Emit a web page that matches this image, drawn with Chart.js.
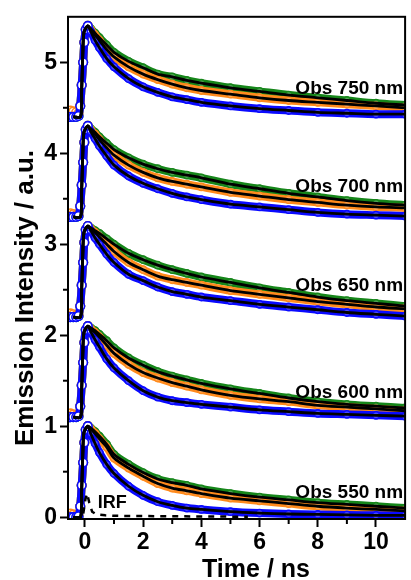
<!DOCTYPE html>
<html>
<head>
<meta charset="utf-8">
<script src="https://cdn.jsdelivr.net/npm/chart.js@4.4.1/dist/chart.umd.min.js"></script>
<style>
  html, body { margin: 0; padding: 0; background: #fff; }
  #wrap { width: 411px; height: 580px; position: relative; }
</style>
</head>
<body>
<div id="wrap"><canvas id="decay-chart"></canvas></div>
<script>
// time axis of the measured traces (ns)
const timeData = [-0.5, -0.4, -0.3, -0.22, -0.16, -0.11, -0.06, -0.02, 0.03, 0.1, 0.2, 0.35, 0.5, 0.75, 1, 1.5, 2, 2.5, 3, 3.5, 4, 5, 6, 7, 8, 9, 10, 11]

// traces, already stacked by 1.1 per wavelength
const green550 = [0, 0, 0, 0.01, 0.12, 0.35, 0.6, 0.82, 0.96, 1.0, 0.98, 0.94, 0.89, 0.80, 0.69, 0.58, 0.49, 0.42, 0.38, 0.35, 0.31, 0.26, 0.22, 0.19, 0.16, 0.14, 0.12, 0.10]
const orange550 = [0.04, 0.03, 0.02, 0.02, 0.12, 0.35, 0.6, 0.82, 0.96, 1.0, 0.97, 0.92, 0.86, 0.77, 0.65, 0.54, 0.45, 0.37, 0.32, 0.29, 0.26, 0.21, 0.18, 0.15, 0.12, 0.10, 0.085, 0.07]
const blue550 = [0, 0, 0, 0.01, 0.12, 0.35, 0.6, 0.82, 0.96, 1.0, 0.92, 0.81, 0.71, 0.58, 0.48, 0.34, 0.24, 0.17, 0.13, 0.10, 0.085, 0.06, 0.045, 0.035, 0.03, 0.025, 0.02, 0.02]

const green600 = [1.10, 1.10, 1.10, 1.11, 1.22, 1.45, 1.70, 1.92, 2.06, 2.10, 2.08, 2.05, 2.01, 1.94, 1.86, 1.75, 1.67, 1.60, 1.55, 1.51, 1.47, 1.41, 1.36, 1.31, 1.27, 1.24, 1.22, 1.20]
const orange600 = [1.14, 1.13, 1.12, 1.12, 1.22, 1.45, 1.70, 1.92, 2.06, 2.10, 2.07, 2.03, 1.98, 1.89, 1.80, 1.68, 1.59, 1.53, 1.48, 1.44, 1.40, 1.34, 1.30, 1.27, 1.23, 1.21, 1.19, 1.17]
const blue600 = [1.10, 1.10, 1.10, 1.11, 1.22, 1.45, 1.70, 1.92, 2.06, 2.10, 2.04, 1.95, 1.87, 1.74, 1.64, 1.50, 1.39, 1.32, 1.28, 1.26, 1.24, 1.21, 1.18, 1.16, 1.14, 1.13, 1.12, 1.11]

const green650 = [2.20, 2.20, 2.20, 2.21, 2.32, 2.55, 2.80, 3.02, 3.16, 3.20, 3.18, 3.15, 3.12, 3.06, 3.00, 2.90, 2.83, 2.77, 2.72, 2.68, 2.64, 2.58, 2.52, 2.47, 2.42, 2.38, 2.35, 2.32]
const orange650 = [2.24, 2.23, 2.22, 2.22, 2.32, 2.55, 2.80, 3.02, 3.16, 3.20, 3.17, 3.13, 3.08, 3.00, 2.92, 2.80, 2.72, 2.65, 2.61, 2.58, 2.55, 2.49, 2.45, 2.41, 2.37, 2.34, 2.31, 2.29]
const blue650 = [2.20, 2.20, 2.20, 2.21, 2.32, 2.55, 2.80, 3.02, 3.16, 3.20, 3.15, 3.07, 3.00, 2.89, 2.80, 2.67, 2.60, 2.53, 2.48, 2.45, 2.42, 2.38, 2.34, 2.31, 2.28, 2.25, 2.23, 2.21]

const green700 = [3.30, 3.30, 3.30, 3.31, 3.42, 3.65, 3.90, 4.12, 4.26, 4.30, 4.27, 4.23, 4.18, 4.11, 4.04, 3.95, 3.88, 3.83, 3.79, 3.76, 3.73, 3.66, 3.61, 3.56, 3.52, 3.48, 3.45, 3.43]
const orange700 = [3.34, 3.33, 3.32, 3.32, 3.42, 3.65, 3.90, 4.12, 4.26, 4.30, 4.26, 4.21, 4.15, 4.06, 3.98, 3.87, 3.79, 3.73, 3.69, 3.66, 3.63, 3.57, 3.53, 3.49, 3.46, 3.43, 3.41, 3.40]
const blue700 = [3.30, 3.30, 3.30, 3.31, 3.42, 3.65, 3.90, 4.12, 4.26, 4.30, 4.24, 4.16, 4.08, 3.97, 3.87, 3.75, 3.67, 3.61, 3.56, 3.52, 3.49, 3.44, 3.41, 3.38, 3.35, 3.33, 3.32, 3.31]

const green750 = [4.40, 4.40, 4.40, 4.41, 4.52, 4.75, 5.00, 5.22, 5.36, 5.40, 5.37, 5.32, 5.27, 5.19, 5.11, 5.01, 4.94, 4.87, 4.84, 4.80, 4.77, 4.72, 4.68, 4.64, 4.61, 4.58, 4.55, 4.53]
const orange750 = [4.47, 4.46, 4.45, 4.44, 4.52, 4.75, 5.00, 5.22, 5.36, 5.40, 5.36, 5.30, 5.24, 5.14, 5.06, 4.95, 4.87, 4.81, 4.76, 4.72, 4.69, 4.65, 4.61, 4.58, 4.56, 4.54, 4.52, 4.50]
const blue750 = [4.40, 4.40, 4.40, 4.41, 4.52, 4.75, 5.00, 5.22, 5.36, 5.40, 5.34, 5.24, 5.16, 5.04, 4.95, 4.82, 4.73, 4.67, 4.62, 4.59, 4.56, 4.52, 4.49, 4.47, 4.45, 4.44, 4.43, 4.43]

// rising edge of the fits, the decay part follows the traces from t = 0.1 on
const fitRiseTime = [-0.4, -0.15, -0.11, -0.07, -0.03]
const fitRise550 = [0, 0, 0.3, 0.7, 0.93]
const fitRise600 = [1.1, 1.1, 1.4, 1.8, 2.03]
const fitRise650 = [2.2, 2.2, 2.5, 2.9, 3.13]
const fitRise700 = [3.3, 3.3, 3.6, 4.0, 4.23]
const fitRise750 = [4.4, 4.4, 4.7, 5.1, 5.33]

const irfTime = [-0.4, -0.15, -0.05, 0.02, 0.08, 0.15, 0.25, 0.4, 0.7, 1, 2, 3, 4, 5, 5.6]
const irfValues = [0, 0, 0.05, 0.2, 0.26, 0.16, 0.06, 0.03, 0.02, 0.015, 0.012, 0.01, 0.008, 0.006, 0.005]

const obsLabels = ['Obs 550 nm', 'Obs 600 nm', 'Obs 650 nm', 'Obs 700 nm', 'Obs 750 nm']
const obsLabelY = [0.27, 1.37, 2.54, 3.63, 4.71]
const obsLabelX = 10.93

const xTicks = [0, 2, 4, 6, 8, 10]
const xMinor = [1, 3, 5, 7, 9]
const yTicks = [0, 1, 2, 3, 4, 5]
const yMinor = [0.5, 1.5, 2.5, 3.5, 4.5]

const GREEN = '#16861a'
const ORANGE = '#ff8a1c'
const BLUE = '#0a0aff'
const FONT = '"Liberation Sans", Arial, sans-serif'

const toXY = (xs, ys) => ys.map((y, i) => ({ x: xs[i], y }))
const decayStart = timeData.indexOf(0.1)

function traceSet (vals, color, order) {
  return {
    data: toXY(timeData, vals),
    showLine: true,
    borderColor: color,
    borderWidth: 8,
    pointRadius: c => (c.dataIndex <= decayStart ? 4.3 : 3.6),
    pointBorderWidth: 1.6,
    pointBorderColor: color,
    pointBackgroundColor: c => (c.dataIndex <= decayStart ? '#fff' : 'rgba(255,255,255,0.25)'),
    tension: 0.3,
    order
  }
}

function fitSet (rise, vals) {
  const pts = toXY(fitRiseTime, rise).concat(toXY(timeData, vals).slice(decayStart))
  return { data: pts, showLine: true, borderColor: '#000', borderWidth: 2.8, pointRadius: 0, tension: 0.3, order: 0 }
}

const panels = [
  [green550, orange550, blue550, fitRise550],
  [green600, orange600, blue600, fitRise600],
  [green650, orange650, blue650, fitRise650],
  [green700, orange700, blue700, fitRise700],
  [green750, orange750, blue750, fitRise750]
]

const datasets = []
panels.forEach(([g, o, b, rise]) => {
  datasets.push(traceSet(g, GREEN, 3), traceSet(o, ORANGE, 2), traceSet(b, BLUE, 1))
  datasets.push(fitSet(rise, g), fitSet(rise, o), fitSet(rise, b))
})
datasets.push({
  data: toXY(irfTime, irfValues),
  showLine: true,
  borderColor: '#000',
  borderWidth: 2.5,
  borderDash: [6, 6],
  pointRadius: 0,
  order: 0
})

const decorPlugin = {
  id: 'decor',
  afterDraw (chart) {
    const { ctx, chartArea: a, scales: { x, y } } = chart
    ctx.save()
    // frame
    ctx.strokeStyle = '#000'
    ctx.lineWidth = 2
    ctx.strokeRect(a.left, a.top, a.right - a.left, a.bottom - a.top)
    // minor ticks
    xMinor.forEach(v => {
      const px = x.getPixelForValue(v)
      ctx.beginPath(); ctx.moveTo(px, a.bottom); ctx.lineTo(px, a.bottom + 5); ctx.stroke()
    })
    yMinor.forEach(v => {
      const py = y.getPixelForValue(v)
      ctx.beginPath(); ctx.moveTo(a.left, py); ctx.lineTo(a.left - 5, py); ctx.stroke()
    })
    // trace labels
    ctx.fillStyle = '#000'
    ctx.font = 'bold 19px ' + FONT
    ctx.textAlign = 'right'
    ctx.textBaseline = 'middle'
    obsLabels.forEach((t, i) => {
      ctx.fillText(t, x.getPixelForValue(obsLabelX), y.getPixelForValue(obsLabelY[i]))
    })
    ctx.textAlign = 'left'
    ctx.font = 'bold 18px ' + FONT
    ctx.fillText('IRF', x.getPixelForValue(0.44), y.getPixelForValue(0.16))
    // axis titles
    ctx.font = 'bold 25px ' + FONT
    ctx.textAlign = 'center'
    ctx.textBaseline = 'alphabetic'
    ctx.fillText('Time / ns', 256, 577)
    ctx.translate(33, 298)
    ctx.rotate(-Math.PI / 2)
    ctx.font = 'bold 26px ' + FONT
    ctx.fillText('Emission Intensity / a.u.', 0, 0)
    ctx.restore()
  }
}

const axisCommon = {
  type: 'linear',
  grid: { drawOnChartArea: false, drawTicks: true, tickLength: 8, tickWidth: 2, tickColor: '#000' },
  border: { display: true, width: 2, color: '#000' },
  ticks: { color: '#000', font: { family: FONT, size: 23, weight: 'bold' } }
}

new Chart(document.getElementById('decay-chart').getContext('2d'), {
  type: 'scatter',
  data: { datasets },
  options: {
    responsive: true,
    maintainAspectRatio: false,
    animation: false,
    layout: { padding: { top: 16, right: 2, left: 0, bottom: 0 } },
    plugins: { legend: { display: false }, tooltip: { enabled: false } },
    scales: {
      x: {
        ...axisCommon,
        min: -0.58,
        max: 11,
        ticks: { ...axisCommon.ticks, padding: 2 },
        afterBuildTicks: s => { s.ticks = xTicks.map(v => ({ value: v })) },
        afterFit: s => { s.height = 61 }
      },
      y: {
        ...axisCommon,
        min: -0.02,
        max: 5.5,
        ticks: { ...axisCommon.ticks, padding: 3 },
        afterBuildTicks: s => { s.ticks = yTicks.map(v => ({ value: v })) },
        afterFit: s => { s.width = 68 }
      }
    }
  },
  plugins: [decorPlugin]
})
</script>
</body>
</html>
